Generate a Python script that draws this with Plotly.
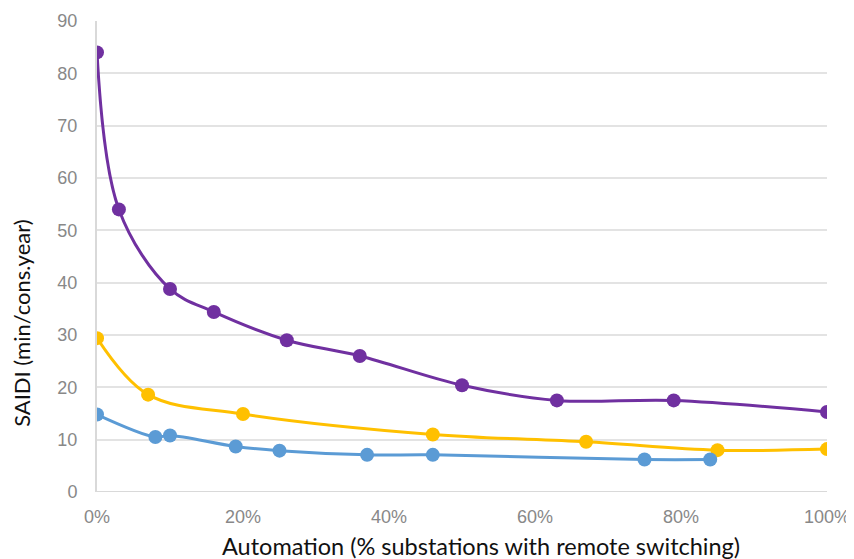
import plotly.graph_objects as go

# Automation level (% substations with remote switching) and SAIDI values
purple_x = [0, 3, 10, 16, 26, 36, 50, 63, 79, 100]
purple_y = [84, 54, 38.8, 34.4, 29, 26, 20.4, 17.5, 17.5, 15.3]

yellow_x = [0, 7, 20, 46, 67, 85, 100]
yellow_y = [29.4, 18.6, 14.9, 11, 9.6, 8, 8.2]

blue_x = [0, 8, 10, 19, 25, 37, 46, 75, 84]
blue_y = [14.8, 10.5, 10.8, 8.7, 7.9, 7.1, 7.1, 6.2, 6.2]

series = [
    (purple_x, purple_y, "#7030A0"),
    (yellow_x, yellow_y, "#FFC000"),
    (blue_x, blue_y, "#5B9BD5"),
]

fig = go.Figure()
for xs, ys, color in series:
    fig.add_trace(go.Scatter(
        x=[v / 100 for v in xs], y=ys,
        mode="lines+markers",
        line=dict(color=color, width=3, shape="spline", smoothing=1.0),
        marker=dict(color=color, size=14),
        showlegend=False,
    ))

# page body has an 8px margin, so the figure is sized to fit inside it
fig.update_layout(
    width=846, height=551,
    margin=dict(l=89, r=27, t=13, b=67, autoexpand=False),
    paper_bgcolor="white", plot_bgcolor="white",
    font=dict(family="Liberation Sans", color="#888888", size=18),
)
fig.update_xaxes(
    range=[0, 1], tickvals=[0, 0.2, 0.4, 0.6, 0.8, 1.0], tickformat=".0%",
    showgrid=False, zeroline=False, showline=False, ticks="",
    ticklabelstandoff=12,
)
fig.update_yaxes(
    range=[0, 90], dtick=10, showgrid=True, gridcolor="#e3e3e3", gridwidth=1.5,
    zeroline=False, showline=True, linecolor="#d9d9d9", linewidth=2,
    ticks="", ticklabelstandoff=14,
)
fig.add_hline(y=0, line=dict(color="#d9d9d9", width=2), layer="below")

# axis titles placed as annotations (they sit off-centre in the original)
fig.add_annotation(
    text="Automation (% substations with remote switching)",
    xref="paper", yref="paper", x=0.526, y=0, yshift=-54,
    xanchor="center", yanchor="middle", showarrow=False,
    font=dict(family="Lato", size=23.5, color="#111111"),
)
fig.add_annotation(
    text="SAIDI (min/cons.year)",
    xref="paper", yref="paper", x=0, y=0.357, xshift=-75,
    xanchor="center", yanchor="middle", textangle=-90, showarrow=False,
    font=dict(family="Lato", size=22, color="#111111"),
)

fig.write_html("out.html")
